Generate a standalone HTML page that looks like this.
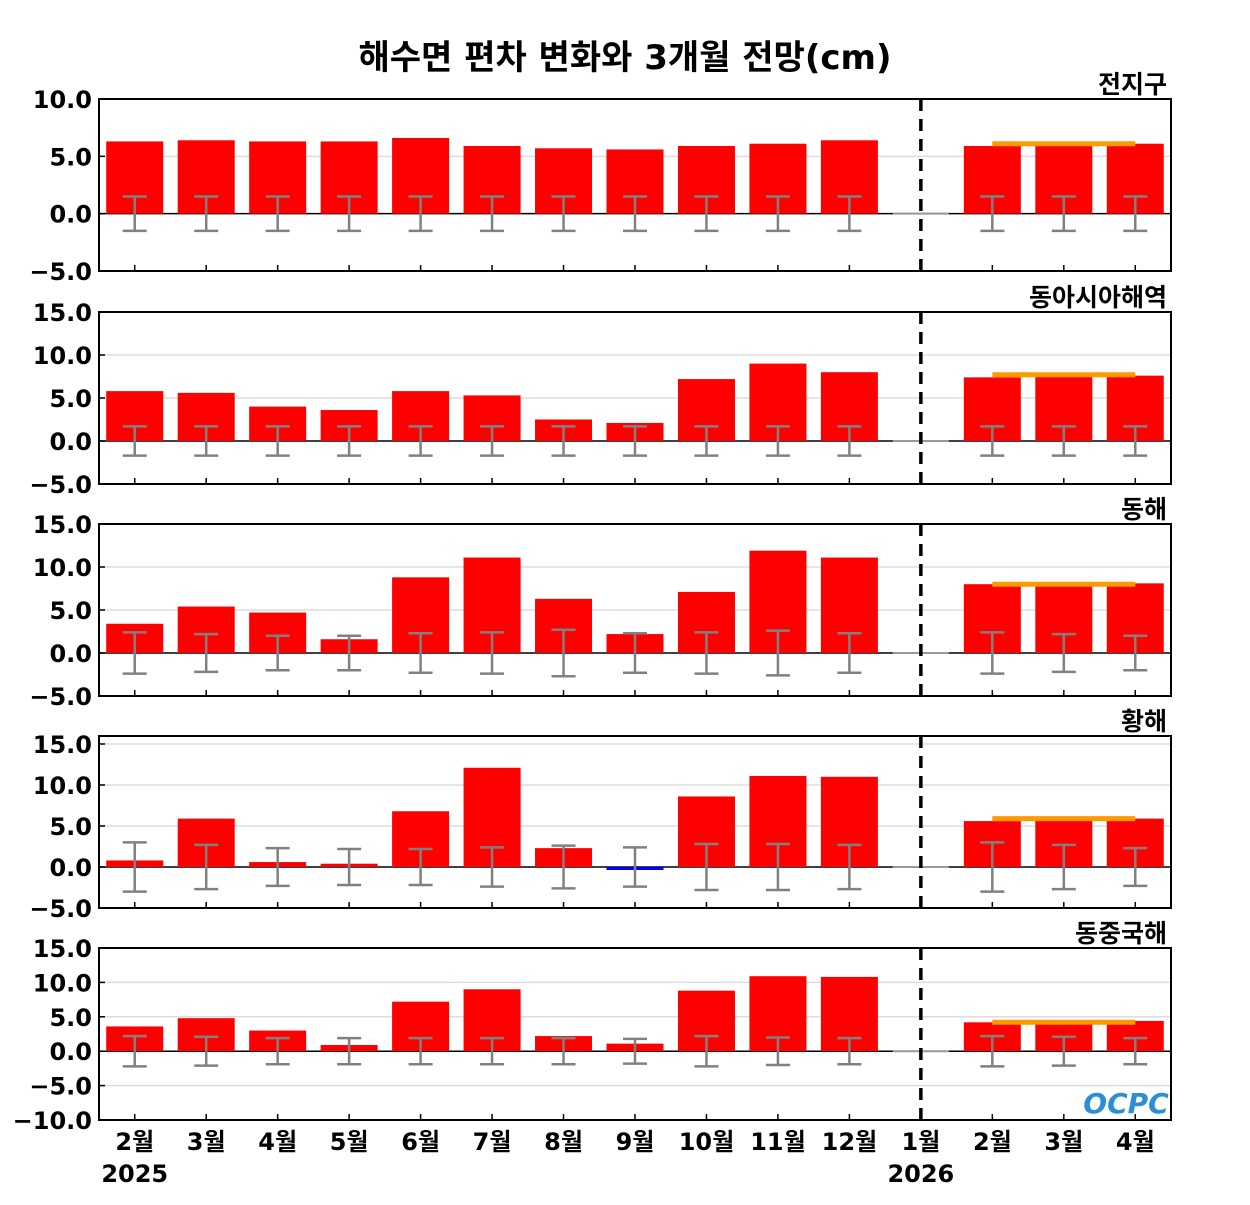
<!DOCTYPE html>
<html><head><meta charset="utf-8"><style>
body{margin:0;background:#fff}
svg text{font-family:"DejaVu Sans","Liberation Sans","Noto Sans CJK KR",sans-serif;font-weight:bold;fill:#000}
</style></head><body>
<svg id="c" width="1250" height="1200" xmlns="http://www.w3.org/2000/svg">
<text x="625" y="69" text-anchor="middle" font-size="34">해수면 편차 변화와 3개월 전망(cm)</text>
</svg>
<script>
const categories=["2월","3월","4월","5월","6월","7월","8월","9월","10월","11월","12월","1월","2월","3월","4월"];
const panelNames=["전지구","동아시아해역","동해","황해","동중국해"];
const v1=[6.3,6.4,6.3,6.3,6.6,5.9,5.7,5.6,5.9,6.1,6.4,null,5.9,6.0,6.1];
const v2=[5.8,5.6,4.0,3.6,5.8,5.3,2.5,2.1,7.2,9.0,8.0,null,7.4,7.6,7.6];
const v3=[3.4,5.4,4.7,1.6,8.8,11.1,6.3,2.2,7.1,11.9,11.1,null,8.0,8.0,8.1];
const v4=[0.8,5.9,0.6,0.4,6.8,12.1,2.3,-0.3,8.6,11.1,11.0,null,5.6,5.9,5.9];
const v5=[3.6,4.8,3.0,0.9,7.2,9.0,2.2,1.1,8.8,10.9,10.8,null,4.2,4.2,4.4];
const e1=[1.5,1.5,1.5,1.5,1.5,1.5,1.5,1.5,1.5,1.5,1.5,null,1.5,1.5,1.5];
const e2=[1.7,1.7,1.7,1.7,1.7,1.7,1.7,1.7,1.7,1.7,1.7,null,1.7,1.7,1.7];
const e3=[2.4,2.2,2.0,2.0,2.3,2.4,2.7,2.3,2.4,2.6,2.3,null,2.4,2.2,2.0];
const e4=[3.0,2.7,2.3,2.2,2.2,2.4,2.6,2.4,2.8,2.8,2.7,null,3.0,2.7,2.3];
const e5=[2.2,2.1,1.9,1.9,1.9,1.9,1.9,1.8,2.2,2.0,1.9,null,2.2,2.1,1.9];
const forecastMean=[6.1,7.7,8.0,5.9,4.2];
const ticks1=[-5,0,5,10];
const ticks2=[-5,0,5,10,15];
const ticks5=[-10,-5,0,5,10,15];
const values=[v1,v2,v3,v4,v5],errs=[e1,e2,e3,e4,e5];
const panels=[
 {top:99,bot:271,min:-5,max:10,ticks:ticks1},
 {top:312,bot:484,min:-5,max:15,ticks:ticks2},
 {top:524,bot:696,min:-5,max:15,ticks:ticks2},
 {top:736,bot:908,min:-5,max:15+8/41*5,ticks:ticks2},
 {top:948,bot:1120,min:-10,max:15,ticks:ticks5}];
const svg=document.getElementById('c'),NS="http://www.w3.org/2000/svg";
const L=99,R=1171,slot=(R-L)/categories.length;
function xc(i){return L+slot*(i+0.5);}
function mk(t,a,p){const e=document.createElementNS(NS,t);for(const k in a)e.setAttribute(k,a[k]);(p||svg).appendChild(e);return e;}
panels.forEach((P,pi)=>{
 const g=mk('g',{});
 
 
 const y=v=>P.bot-(v-P.min)/(P.max-P.min)*(P.bot-P.top);
 P.ticks.forEach(t=>{
  if(t!==0&&y(t)>P.top+1&&y(t)<P.bot-1)mk('line',{x1:L,x2:R,y1:y(t),y2:y(t),stroke:'#ddd','stroke-width':1.5},g);
  const tx=mk('text',{x:92,y:y(t)+9,'text-anchor':'end','font-size':24},g);
  tx.textContent=(t<0?'\u2212'+(-t).toFixed(1):t.toFixed(1));
  
  
  mk('line',{x1:L,x2:L+6,y1:y(t),y2:y(t),stroke:'#000','stroke-width':1.5},g);
 });
 mk('line',{x1:L,x2:R,y1:y(0),y2:y(0),stroke:'#000','stroke-width':1.5},g);
 const bw=57;
 values[pi].forEach((v,i)=>{
  if(v===null){mk('line',{x1:xc(i)-28,x2:xc(i)+28,y1:y(0),y2:y(0),stroke:'#999','stroke-width':2},g);return;}
  const r=mk('rect',{x:xc(i)-bw/2,y:Math.min(y(v),y(0)),width:bw,height:Math.max(Math.abs(y(v)-y(0)),3),fill:v<0?'#0000ff':'#ff0000'},g);
  
  
 });
 errs[pi].forEach((e,i)=>{
  if(e===null)return;
  const x=xc(i);
  mk('line',{x1:x,x2:x,y1:y(e),y2:y(-e),stroke:'#808080','stroke-width':2.5},g);
  mk('line',{x1:x-12,x2:x+12,y1:y(e),y2:y(e),stroke:'#808080','stroke-width':2.5},g);
  mk('line',{x1:x-12,x2:x+12,y1:y(-e),y2:y(-e),stroke:'#808080','stroke-width':2.5},g);
 });
 const fm=mk('line',{x1:xc(12),x2:xc(14),y1:y(forecastMean[pi]),y2:y(forecastMean[pi]),stroke:'#ff9900','stroke-width':5},g);
 
 
 categories.forEach((c,i)=>mk('line',{x1:xc(i),x2:xc(i),y1:P.bot,y2:P.bot-6,stroke:'#000','stroke-width':1.5},g));
 mk('line',{x1:xc(11),x2:xc(11),y1:P.top,y2:P.bot,stroke:'#000','stroke-width':3.5,'stroke-dasharray':'12,8'},g);
 mk('rect',{x:L,y:P.top,width:R-L,height:P.bot-P.top,fill:'none',stroke:'#000','stroke-width':2},g);
 const nm=mk('text',{x:R-4,y:P.top-6,'text-anchor':'end','font-size':25},g);
 nm.textContent=panelNames[pi];
 
 
});
categories.forEach((c,i)=>{
 const t=mk('text',{x:xc(i),y:1150,'text-anchor':'middle','font-size':24});
 t.textContent=c;
 
 
});
[[0,'2025'],[11,'2026']].forEach(([i,s])=>{
 const t=mk('text',{x:xc(i),y:1182,'text-anchor':'middle','font-size':24});
 t.textContent=s;
 
 
});
const lg=mk('text',{x:1126,y:1113,'text-anchor':'middle','font-size':28,style:'fill:#2a8fd6;font-style:italic'});
lg.textContent='OCPC';


</script>
</body></html>
